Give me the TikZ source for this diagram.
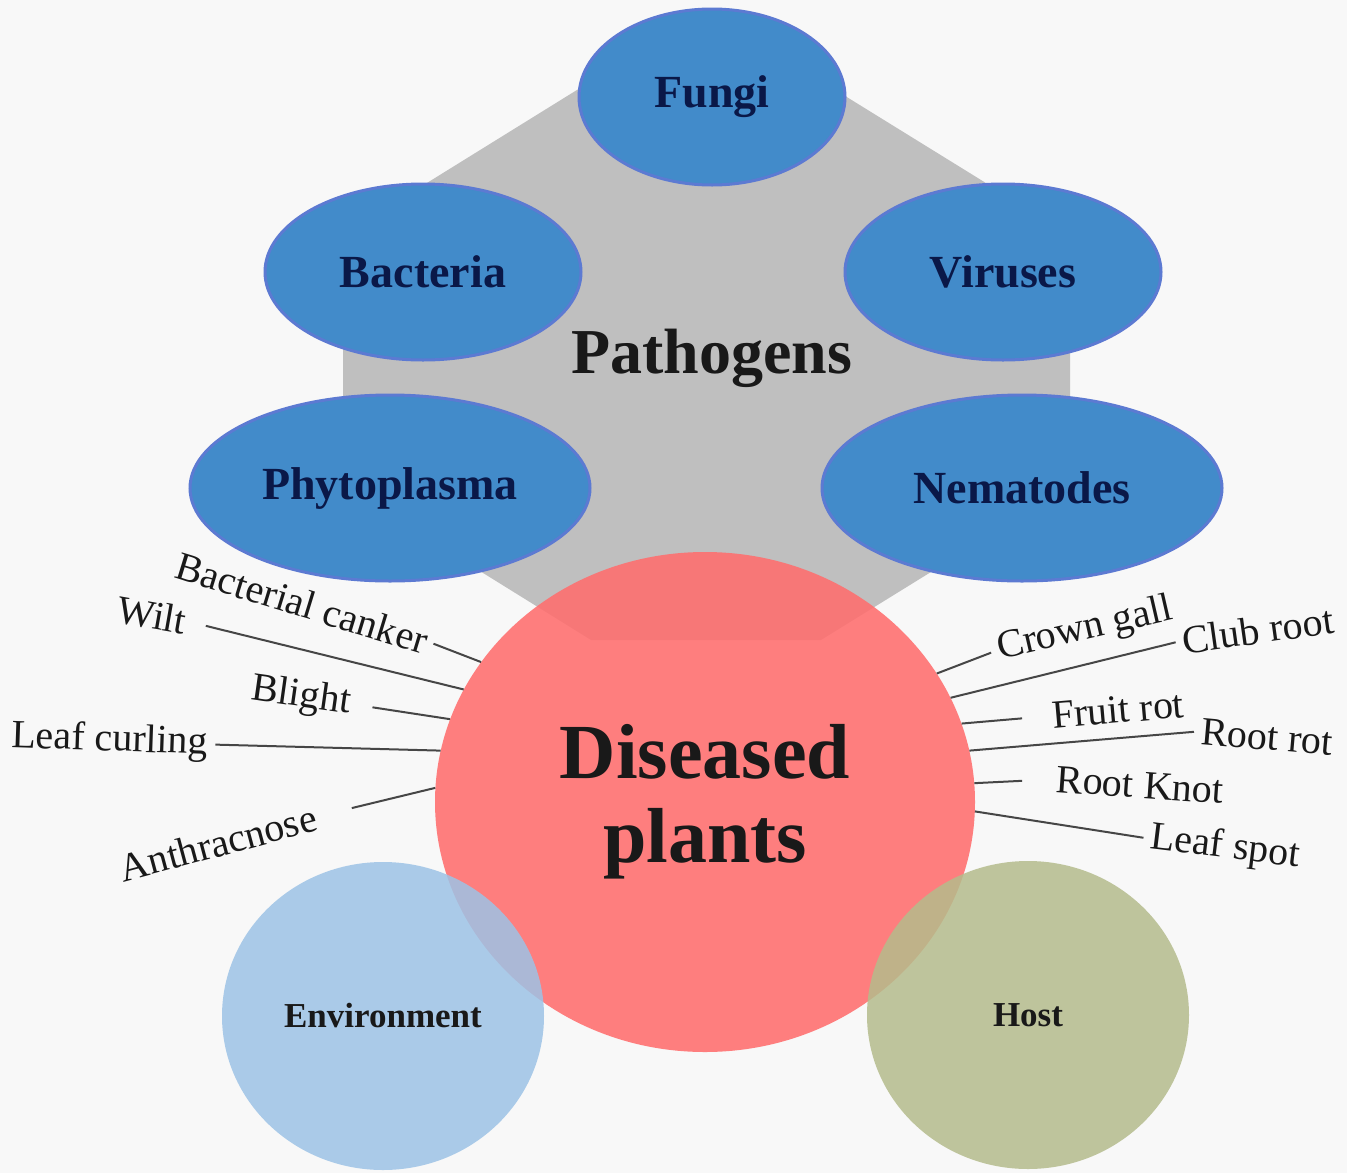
\documentclass[tikz,border=0pt]{standalone}
\usepackage{fontspec}
\setmainfont{Liberation Serif}
\usetikzlibrary{shapes.geometric}
\definecolor{paper}{RGB}{248,248,248}
\definecolor{pathgray}{RGB}{191,191,191}
\definecolor{pathblue}{RGB}{66,139,202}
\definecolor{pathedge}{RGB}{92,122,210}
\definecolor{navytext}{RGB}{10,24,72}
\definecolor{diseasered}{RGB}{255,110,110}
\definecolor{envblue}{RGB}{157,195,230}
\definecolor{hostolive}{RGB}{181,188,140}
\definecolor{leadgray}{RGB}{70,70,70}

\begin{document}
\begin{tikzpicture}[x=1pt,y=-1pt, every node/.style={font=\fontsize{40}{44}\selectfont,text=black!90}, blob/.style={ellipse,draw=pathedge,line width=3pt,fill=pathblue,inner sep=0pt,text=navytext,font=\fontsize{46}{50}\selectfont\bfseries}, ring/.style={ellipse,inner sep=0pt,fill opacity=0.85,text opacity=1,minimum width=322pt,minimum height=308pt,font=\fontsize{35}{40}\selectfont\bfseries}, lbl/.style={inner sep=0pt}, lead/.style={draw=leadgray,line width=2pt,shorten <=7pt}]
\fill[paper] (0,0) rectangle (1347,1173);
\useasboundingbox (0,0) rectangle (1347,1173);
\fill[pathgray] (706,10) -- (1070,235) -- (1070,486) -- (821,640) -- (591,640) -- (343,486) -- (343,235) -- cycle;
\node[font=\fontsize{64}{70}\selectfont\bfseries] (pathogens) at (712,358) {Pathogens};
\node[blob,minimum width=266pt,minimum height=176pt] (fungi) at (712,97) {Fungi};
\node[blob,minimum width=316pt,minimum height=176pt] (bacteria) at (423,272) {Bacteria};
\node[blob,minimum width=316pt,minimum height=176pt] (viruses) at (1003,272) {Viruses};
\node[blob,minimum width=400pt,minimum height=186pt] (phyto) at (390,488) {Phytoplasma};
\node[blob,minimum width=400pt,minimum height=186pt] (nema) at (1022,488) {Nematodes};
\node[ellipse,fill=diseasered,fill opacity=0.88,text opacity=1,inner sep=0pt,minimum width=540pt,minimum height=500pt,align=center,font=\fontsize{78}{84}\selectfont\bfseries] (dis) at (705,802) {Diseased\\plants};
\node[ring,fill=envblue] (env) at (383,1016) {Environment};
\node[ring,fill=hostolive] (host) at (1028,1015) {Host};
\node[lbl,rotate=-17] (canker) at (302,603) {Bacterial canker};
\node[lbl,rotate=-10] (wilt) at (152,615) {Wilt};
\node[lbl,rotate=-8] (blight) at (301,697) {Blight};
\node[lbl,rotate=-2] (curl) at (110,741) {Leaf curling};
\node[lbl,rotate=15] (anthrac) at (218,843) {Anthracnose};
\node[lbl,rotate=13] (crown) at (1085,630) {Crown gall};
\node[lbl,rotate=8] (club) at (1258,630) {Club root};
\node[lbl,rotate=5] (fruit) at (1118,710) {Fruit rot};
\node[lbl,rotate=-5] (rootrot) at (1267,737) {Root rot};
\node[lbl,rotate=-4] (knot) at (1140,785) {Root Knot};
\node[lbl,rotate=-7] (spot) at (1225,848) {Leaf spot};
\draw[lead] (canker.east) -- (dis.148.5); \draw[lead,shorten <=20pt] (wilt.east) -- (dis.155); \draw[lead,shorten <=22pt] (blight.east) -- (dis.162); \draw[lead] (curl.east) -- (dis.169); \draw[lead,shorten <=37pt] (anthrac.east) -- (dis.177);
\draw[lead] (crown.west) -- (dis.29.4); \draw[lead] (club.west) -- (dis.23.4); \draw[lead,shorten <=30pt] (fruit.west) -- (dis.17.6); \draw[lead] (rootrot.west) -- (dis.11.4); \draw[lead,shorten <=34pt] (knot.west) -- (dis.4.7); \draw[lead] (spot.west) -- (dis.-2.3);
\end{tikzpicture}
\end{document}
